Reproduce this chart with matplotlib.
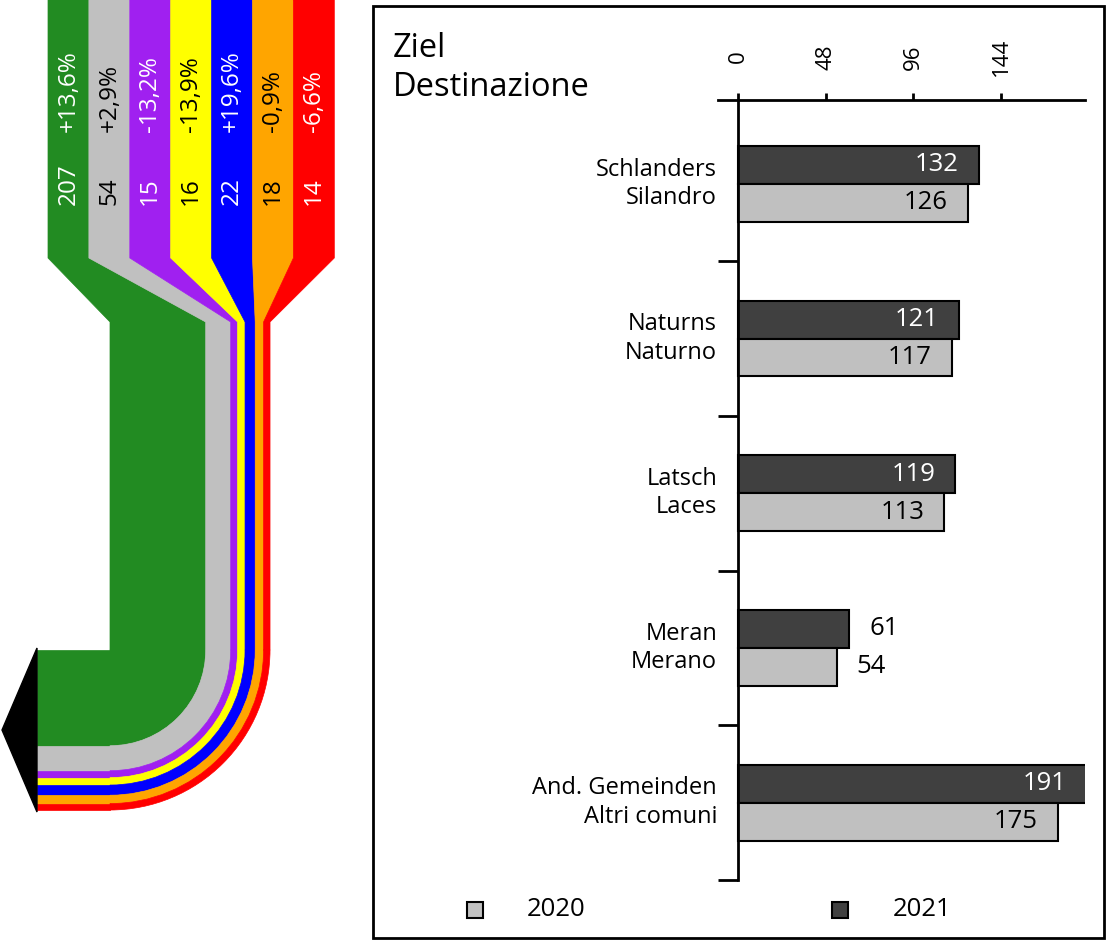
import numpy as np
import matplotlib
matplotlib.use('Agg')
import matplotlib.pyplot as plt
from matplotlib.patches import Polygon, Wedge, Rectangle

plt.rcParams['font.family'] = ['Open Sans', 'DejaVu Sans']

# ---------------- data ----------------
flow_values = [207, 54, 15, 16, 22, 18, 14]
flow_changes = ['+13,6%', '+2,9%', '-13,2%', '-13,9%', '+19,6%', '-0,9%', '-6,6%']
flow_colors = ['#228B22', '#C0C0C0', '#A020F0', '#FFFF00', '#0000FF', '#FFA500', '#FF0000']
flow_text_colors = ['white', 'black', 'white', 'black', 'white', 'black', 'white']

destinations = ['Schlanders\nSilandro', 'Naturns\nNaturno', 'Latsch\nLaces',
                'Meran\nMerano', 'And. Gemeinden\nAltri comuni']
values_2020 = [126, 117, 113, 54, 175]
values_2021 = [132, 121, 119, 61, 191]
x_ticks = [0, 48, 96, 144]
years = ['2020', '2021']
year_colors = ['#C0C0C0', '#404040']
year_text_colors = ['black', 'white']
title = 'Ziel\nDestinazione'

# ---------------- figure ----------------
W, H = 1112, 942
fig = plt.figure(figsize=(W / 100, H / 100), dpi=100)
ov = fig.add_axes([0, 0, 1, 1])
ov.set_xlim(0, W)
ov.set_ylim(H, 0)
ov.axis('off')

# left flow diagram (pixel geometry)
col_left, col_w = 48, 40.9
col_bottom, funnel_bottom = 258, 322
scale = 0.4625
bend_x, bend_y = 110, 650
band_end_x, tip_x = 37, 2

cum = 0
for i, (v, c) in enumerate(zip(flow_values, flow_colors)):
    xl = col_left + i * col_w
    xr = xl + col_w
    r0 = cum * scale
    r1 = (cum + v) * scale
    cum += v
    poly = [(xl, 0), (xr, 0), (xr, col_bottom), (bend_x + r1, funnel_bottom),
            (bend_x + r1, bend_y), (bend_x + r0, bend_y),
            (bend_x + r0, funnel_bottom), (xl, col_bottom)]
    ov.add_patch(Polygon(poly, closed=True, facecolor=c, edgecolor=c, lw=0.5))
    ov.add_patch(Wedge((bend_x, bend_y), r1, 0, 90, width=r1 - r0,
                       facecolor=c, edgecolor=c, lw=0.5))
    ov.add_patch(Rectangle((band_end_x, bend_y + r0), bend_x - band_end_x, r1 - r0,
                           facecolor=c, edgecolor=c, lw=0.5))
    xc = (xl + xr) / 2
    ov.text(xc, 205, str(v), rotation=90, ha='center', va='bottom',
            color=flow_text_colors[i], fontsize=17.5)
    ov.text(xc, 132, flow_changes[i], rotation=90, ha='center', va='bottom',
            color=flow_text_colors[i], fontsize=17.5)

total = cum * scale
ov.add_patch(Polygon([(band_end_x, bend_y - 2), (band_end_x, bend_y + total + 2),
                      (tip_x, bend_y + total / 2)], closed=True,
                     facecolor='black', edgecolor='black', lw=1))

# right panel frame
ov.add_patch(Rectangle((373, 6), 731, 932, fill=False, lw=2, ec='black'))

ov.text(393, 68, title, ha='left', va='center', fontsize=23.5, linespacing=1.25)

# legend
ov.plot(475, 910, marker='s', ms=11, mfc=year_colors[0], mec='black', mew=1.5)
ov.text(527, 910, years[0], ha='left', va='center', fontsize=18.5)
ov.plot(840, 910, marker='s', ms=11, mfc=year_colors[1], mec='black', mew=1.5)
ov.text(893, 910, years[1], ha='left', va='center', fontsize=18.5)

# bar chart
ax = fig.add_axes([718 / W, (H - 880) / H, 367 / W, 780 / H])
ax.patch.set_alpha(0)
ax.set_xlim(-11, 190)
ax.set_ylim(4.5, -0.542)
y = np.arange(len(destinations))
h = 0.245
ax.barh(y - h / 2, values_2021, height=h, color=year_colors[1], edgecolor='black', lw=1.5)
ax.barh(y + h / 2, values_2020, height=h, color=year_colors[0], edgecolor='black', lw=1.5)

for s in ['right', 'bottom']:
    ax.spines[s].set_visible(False)
ax.spines['left'].set_position(('data', 0))
ax.spines['left'].set_linewidth(2)
ax.spines['top'].set_linewidth(2)
ax.xaxis.tick_top()
ax.set_xticks(x_ticks)
ax.set_xticklabels([str(t) for t in x_ticks], rotation=90, fontsize=16)
ax.tick_params(axis='x', direction='out', length=5, width=2, pad=26)
for lbl in ax.get_xticklabels():
    lbl.set_va('center')
ax.set_yticks(y + 0.5)
ax.set_yticklabels([])
ax.tick_params(axis='y', direction='out', length=14.4, width=2)

for i in range(len(destinations)):
    for k, (v, yy) in enumerate(((values_2020[i], y[i] + h / 2),
                                 (values_2021[i], y[i] - h / 2))):
        if v >= 100:
            ax.text(v - 11, yy, str(v), ha='right', va='center',
                    color=year_text_colors[k], fontsize=18.5)
        else:
            ax.text(v + 11, yy, str(v), ha='left', va='center', color='black',
                    fontsize=18.5)
    ax.text(-11.5, y[i], destinations[i], ha='right', va='center', fontsize=17,
            linespacing=1.25)

fig.savefig('out.png', dpi=100)
